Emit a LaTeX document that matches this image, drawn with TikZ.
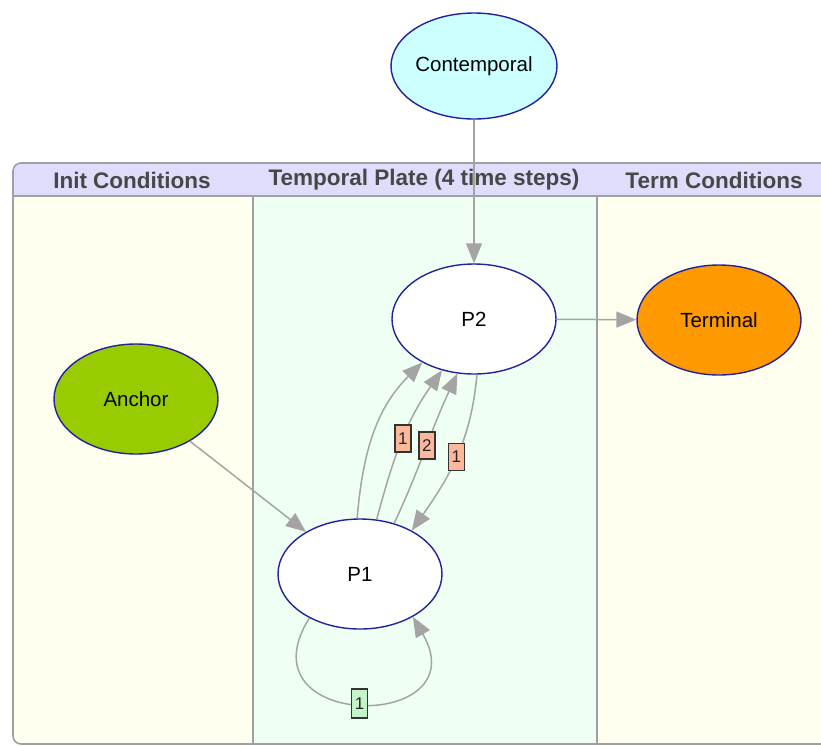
\documentclass[tikz,border=0pt]{standalone}
\usepackage{fontspec}
\setmainfont{Liberation Sans}
\usetikzlibrary{shapes,arrows.meta}

\definecolor{edgegray}{HTML}{A4A4A4}
\definecolor{framegray}{HTML}{A0A0A0}
\definecolor{navy}{HTML}{22229C}
\definecolor{hdrblue}{HTML}{DEDEFC}
\definecolor{ivory}{HTML}{FFFFF0}
\definecolor{mint}{HTML}{F0FFF4}
\definecolor{cyanish}{HTML}{CCFFFF}
\definecolor{termorange}{HTML}{FF9900}
\definecolor{anchorgreen}{HTML}{99CC00}
\definecolor{salmon}{HTML}{FCB89A}
\definecolor{loopgreen}{HTML}{C4F4C8}

\begin{document}
\begin{tikzpicture} [
    x=1pt, y=-1pt,
  ]

  \tikzstyle{varnode} = [
    ellipse,
    line width=1.4pt,
    draw=navy,
    fill=white,
    minimum width=164pt,
    minimum height=110pt,
    inner sep=0pt,
    font=\fontsize{20.5}{24}\selectfont,
  ]
  \tikzstyle{dbnarc} = [
    -{Triangle[length=20pt,width=16pt]},
    line width=1.5pt,
    draw=edgegray,
    color=edgegray,
  ]
  \tikzstyle{lagbox} = [
    rectangle,
    draw=black!80,
    line width=1.5pt,
    fill=salmon,
    text=black!85,
    inner sep=0pt,
    minimum width=16pt,
    minimum height=27pt,
    font=\fontsize{17}{20}\selectfont,
  ]
  \tikzstyle{loopbox} = [
    lagbox,
    fill=loopgreen,
    minimum height=29pt,
  ]
  \tikzstyle{platehdr} = [
    text=black!72,
    font=\fontsize{22.5}{24}\bfseries\selectfont,
  ]

  \useasboundingbox (0,0) rectangle (821,745);

  % plate panels
  \begin{scope}
    \clip (0,0) rectangle (821,745);
    \begin{scope}
      \clip[rounded corners=8pt] (13,163) rectangle (835,744);
      \fill[hdrblue]    (13,163)  rectangle (835,196);
      \fill[ivory]      (13,196)  rectangle (253,744);
      \fill[mint]       (253,196) rectangle (597,744);
      \fill[ivory]      (597,196) rectangle (835,744);
    \end{scope}
    \draw[framegray, line width=1.6pt, rounded corners=8pt] (13,163) rectangle (835,744);
    \draw[framegray, line width=1.6pt] (13,196) -- (835,196);
    \draw[framegray, line width=1.6pt] (253,196) -- (253,744);
    \draw[framegray, line width=1.6pt] (597,196) -- (597,744);
  \end{scope}

  \node[platehdr] (hinit) at (132,180) {Init Conditions};
  \node[platehdr] (htemp) at (424,180) {Temporal Plate (4 time steps)};
  \node[platehdr] (hterm) at (714,180) {Term Conditions};

  % variables
  \node[varnode, fill=cyanish, minimum height=106pt] (contemp) at (474,66)  {Contemporal};
  \node[varnode]                                     (ptwo)    at (474,319) {P2};
  \node[varnode, fill=termorange]                    (term)    at (719,320) {Terminal};
  \node[varnode, fill=anchorgreen]                   (anchor)  at (136,399) {Anchor};
  \node[varnode]                                     (pone)    at (360,574) {P1};

  % arcs
  \draw[dbnarc] (contemp) -- (ptwo);
  \draw[dbnarc] (ptwo)    -- (term);
  \draw[dbnarc] (anchor)  -- (pone);
  \draw[dbnarc] (pone.93)  to[out=85,in=225] (ptwo.220);
  \draw[dbnarc] (pone.73)  to[out=75,in=235] node[lagbox, pos=0.52] {1} (ptwo.238);
  \draw[dbnarc] (pone.56)  to[out=65,in=245] node[lagbox, pos=0.52] {2} (ptwo.253);
  \draw[dbnarc] (ptwo.273) to[out=265,in=55] node[lagbox, pos=0.5] {1} (pone.40);
  \draw[dbnarc] (pone.221) to[out=238,in=300,looseness=3.3] node[loopbox] {1} (pone.321);

\end{tikzpicture}
\end{document}
